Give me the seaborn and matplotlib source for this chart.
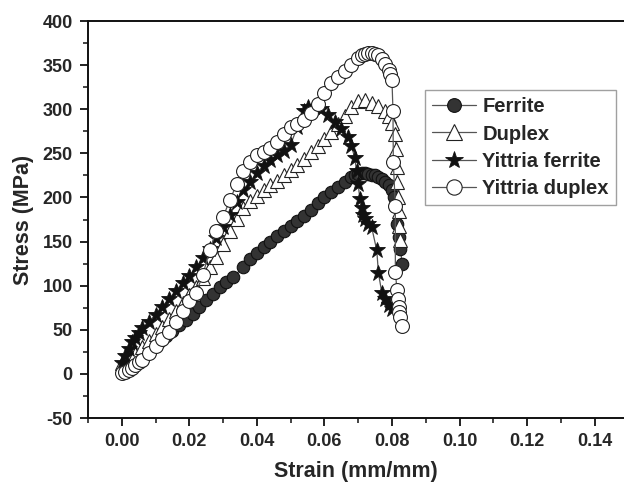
import matplotlib
matplotlib.use("Agg")
import matplotlib.pyplot as plt
import seaborn as sns
from matplotlib.ticker import MultipleLocator

# ---------------- data ----------------
ferrite_x = [0.001, 0.003, 0.005, 0.007, 0.009, 0.011, 0.013, 0.015, 0.017, 0.019,
             0.021, 0.023, 0.025, 0.027, 0.029, 0.031, 0.033, 0.036, 0.038, 0.040,
             0.042, 0.044, 0.046, 0.048, 0.050, 0.052, 0.054, 0.056, 0.058, 0.060,
             0.062, 0.064, 0.066, 0.068, 0.069, 0.070, 0.071, 0.072, 0.073, 0.074,
             0.075, 0.076, 0.077, 0.078, 0.079, 0.080, 0.0805, 0.081, 0.0815, 0.082,
             0.0825, 0.083]
ferrite_y = [2, 8, 15, 22, 29, 36, 43, 49, 55, 61,
             68, 76, 84, 91, 98, 104, 110, 121, 130, 137,
             144, 150, 156, 162, 168, 173, 179, 186, 194, 200,
             206, 212, 218, 223, 225, 227, 228, 228, 227, 226,
             225, 223, 221, 218, 214, 208, 200, 190, 170, 155,
             142, 125]

duplex_x = [0.000, 0.002, 0.004, 0.006, 0.008, 0.010, 0.012, 0.014, 0.016, 0.018,
            0.020, 0.022, 0.024, 0.026, 0.028, 0.030, 0.032, 0.034, 0.036, 0.038,
            0.040, 0.042, 0.044, 0.046, 0.048, 0.050, 0.052, 0.054, 0.056, 0.058,
            0.060, 0.062, 0.064, 0.066, 0.068, 0.070, 0.072, 0.074, 0.076, 0.078,
            0.079, 0.080, 0.081, 0.0812, 0.0815, 0.0816, 0.0818, 0.082, 0.0822, 0.0825]
duplex_y = [12, 17, 23, 30, 37, 45, 53, 62, 71, 80,
            89, 98, 109, 121, 133, 147, 162, 176, 188, 196,
            202, 208, 214, 219, 225, 231, 237, 244, 251, 258,
            266, 274, 283, 292, 302, 309, 310, 307, 304, 298,
            292, 284, 272, 255, 235, 217, 200, 185, 168, 152]

yf_x = [0.000, 0.001, 0.002, 0.003, 0.004, 0.005, 0.006, 0.008, 0.010, 0.012,
        0.014, 0.016, 0.018, 0.020, 0.022, 0.024, 0.026, 0.028, 0.030, 0.032,
        0.034, 0.036, 0.038, 0.040, 0.042, 0.044, 0.046, 0.048, 0.050, 0.052,
        0.054, 0.055, 0.057, 0.059, 0.061, 0.063, 0.065, 0.067, 0.068, 0.069,
        0.0695, 0.070, 0.0705, 0.071, 0.0715, 0.072, 0.073, 0.074, 0.0755, 0.076,
        0.077, 0.078, 0.079, 0.080]
yf_y = [12, 20, 28, 36, 41, 46, 52, 59, 67, 76,
        85, 94, 103, 111, 121, 131, 142, 154, 166, 180,
        195, 208, 218, 228, 236, 243, 248, 253, 260, 280,
        298, 303, 302, 300, 294, 286, 278, 268, 258, 245,
        230, 215, 198, 188, 180, 176, 170, 166, 140, 114,
        92, 85, 78, 74]

yd_x = [0.000, 0.001, 0.002, 0.003, 0.004, 0.005, 0.006, 0.008, 0.010, 0.012,
        0.014, 0.016, 0.018, 0.020, 0.022, 0.024, 0.026, 0.028, 0.030, 0.032,
        0.034, 0.036, 0.038, 0.040, 0.042, 0.044, 0.046, 0.048, 0.050, 0.052,
        0.054, 0.056, 0.058, 0.060, 0.062, 0.064, 0.066, 0.068, 0.070, 0.071,
        0.072, 0.073, 0.074, 0.075, 0.076, 0.077, 0.078, 0.079, 0.0795, 0.080,
        0.0803, 0.0804, 0.081, 0.081, 0.0815, 0.0818, 0.082, 0.0822, 0.0824, 0.083]
yd_y = [1, 2, 4, 7, 10, 13, 16, 24, 32, 40,
        48, 59, 71, 83, 92, 112, 140, 162, 178, 197,
        215, 230, 240, 248, 252, 256, 263, 272, 280, 283,
        288, 296, 306, 318, 330, 337, 343, 350, 358, 361,
        363, 364, 364, 363, 361, 357, 351, 345, 340, 333,
        298, 240, 190, 115, 95, 85, 76, 70, 65, 54]

series_labels = ["Ferrite", "Duplex", "Yittria ferrite", "Yittria duplex"]
x_ticks = [0.00, 0.02, 0.04, 0.06, 0.08, 0.10, 0.12, 0.14]
y_ticks = [-50, 0, 50, 100, 150, 200, 250, 300, 350, 400]

# ---------------- styling ----------------
sns.set_style("ticks")
plt.rcParams['font.family'] = ['Liberation Sans', 'DejaVu Sans']
plt.rcParams['font.weight'] = 'bold'

fig = plt.figure(figsize=(6.24, 4.90), dpi=100)
ax = fig.add_axes([88 / 624, 72 / 490, 1 - 88 / 624, (418 - 21) / 490])

line_kw = dict(color="#555555", linewidth=0.9, sort=False, estimator=None, ax=ax)

sns.lineplot(x=ferrite_x, y=ferrite_y, label=series_labels[0], marker="o",
             markersize=9, markerfacecolor="#333333", markeredgecolor="#111111",
             markeredgewidth=0.8, **line_kw)
sns.lineplot(x=duplex_x, y=duplex_y, label=series_labels[1], marker="^",
             markersize=10, markerfacecolor="white", markeredgecolor="#222222",
             markeredgewidth=0.8, **line_kw)
sns.lineplot(x=yf_x, y=yf_y, label=series_labels[2], marker="*",
             markersize=12, markerfacecolor="#111111", markeredgecolor="#111111",
             markeredgewidth=0.6, **line_kw)
sns.lineplot(x=yd_x, y=yd_y, label=series_labels[3], marker="o",
             markersize=10, markerfacecolor="white", markeredgecolor="#222222",
             markeredgewidth=0.8, **line_kw)

ax.set_xlim(-0.01, 0.1487)
ax.set_ylim(-50, 400)
ax.set_xticks(x_ticks)
ax.set_xticklabels([f"{v:.2f}" for v in x_ticks])
ax.set_yticks(y_ticks)
ax.set_yticklabels([str(v) for v in y_ticks])
ax.xaxis.set_minor_locator(MultipleLocator(0.01))
ax.yaxis.set_minor_locator(MultipleLocator(25))

ax.tick_params(which="major", direction="out", length=6, width=1.3,
               labelsize=13, pad=5, top=False, right=False, color="#111111")
ax.tick_params(which="minor", direction="out", length=3.5, width=1.1,
               top=False, right=False, color="#111111")
for lbl in ax.get_xticklabels() + ax.get_yticklabels():
    lbl.set_fontweight("bold")

for side in ["left", "bottom", "top"]:
    ax.spines[side].set_linewidth(1.4)
    ax.spines[side].set_color("#111111")
ax.spines["right"].set_visible(False)

ax.set_xlabel("Strain (mm/mm)", fontsize=15.5, fontweight="bold", labelpad=8)
ax.set_ylabel("Stress (MPa)", fontsize=15.5, fontweight="bold", labelpad=6)

leg = ax.legend(loc="upper left", bbox_to_anchor=((425 - 88) / 536, 1 - (90 - 21) / 397),
                frameon=True, fancybox=False, fontsize=14.5, handlelength=2.2,
                handletextpad=0.3, borderpad=0.35, labelspacing=0.42,
                borderaxespad=0, markerscale=1.1)
leg.get_frame().set_edgecolor("#888888")
leg.get_frame().set_linewidth(1.0)
for t in leg.get_texts():
    t.set_fontweight("bold")

fig.savefig("out.png", dpi=100)
